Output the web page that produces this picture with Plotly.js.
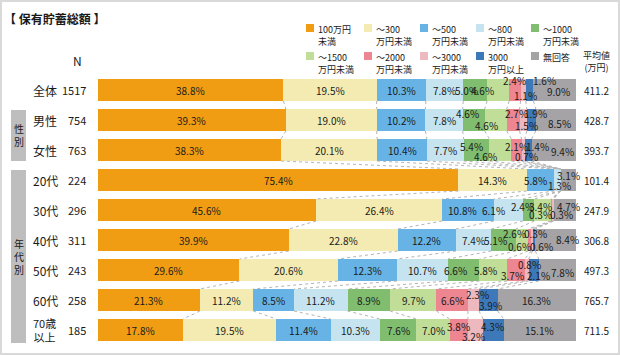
<!DOCTYPE html>
<html>
<head>
<meta charset="utf-8">
<script src="https://cdn.plot.ly/plotly-3.0.1.min.js"></script>
<style>
  html, body { margin: 0; padding: 0; background: #ffffff; }
  #chart { width: 620px; height: 355px; }
</style>
</head>
<body>
<div id="chart"></div>
<script>
// ---------------- DATA ----------------
const categories = ['全体', '男性', '女性', '20代', '30代', '40代', '50代', '60代', '70歳<br>以上'];
const nValues = [1517, 754, 763, 224, 296, 311, 243, 258, 185];
const averages = ['411.2', '428.7', '393.7', '101.4', '247.9', '306.8', '497.3', '765.7', '711.5'];

const seriesNames = ['100万円<br>未満', '～300<br>万円未満', '～500<br>万円未満', '～800<br>万円未満', '～1000<br>万円未満',
                     '～1500<br>万円未満', '～2000<br>万円未満', '～3000<br>万円未満', '3000<br>万円以上', '無回答'];

const under100  = [38.8, 39.3, 38.3, 75.4, 45.6, 39.9, 29.6, 21.3, 17.8];
const under300  = [19.5, 19.0, 20.1, 14.3, 26.4, 22.8, 20.6, 11.2, 19.5];
const under500  = [10.3, 10.2, 10.4,  5.8, 10.8, 12.2, 12.3,  8.5, 11.4];
const under800  = [ 7.8,  7.8,  7.7,  1.3,  6.1,  7.4, 10.7, 11.2, 10.3];
const under1000 = [ 5.0,  4.6,  5.4,  0.0,  2.4,  5.1,  6.6,  8.9,  7.6];
const under1500 = [ 4.6,  4.6,  4.6,  0.0,  3.4,  2.6,  5.8,  9.7,  7.0];
const under2000 = [ 2.4,  2.7,  2.1,  0.0,  0.3,  0.6,  3.7,  6.6,  3.8];
const under3000 = [ 1.1,  1.5,  0.7,  0.0,  0.3,  0.3,  0.8,  2.3,  3.2];
const over3000  = [ 1.6,  1.9,  1.4,  0.0,  0.0,  0.6,  2.1,  3.9,  4.3];
const noAnswer  = [ 9.0,  8.5,  9.4,  3.1,  4.7,  8.4,  7.8, 16.3, 15.1];

const series = [under100, under300, under500, under800, under1000, under1500, under2000, under3000, over3000, noAnswer];

// ---------------- STYLE ----------------
const colors = ['#F09D14', '#F3EBB1', '#67B3E5', '#C5E4F0', '#80BD6E', '#C0DE98', '#EE8691', '#EDB9BE', '#3D79B9', '#A5A3A5'];
const FONT = "'Noto Sans CJK JP', 'Noto Sans', sans-serif";
const TXT = '#1a1a1a';
const W = 620, H = 355;
const barWidth = 22 / 30;

// label nudges in px per row: {seriesIndex: [dx, dy]} (dy positive = down)
const labelNudge = [
  {4: [-9, 0], 5: [-16, 0], 6: [0, -10], 7: [2, 5], 8: [15, -10], 9: [4, 1]},
  {4: [-6, -7], 5: [-9, 5], 6: [3, -7], 7: [3, 5], 8: [4, -7], 9: [3, 3]},
  {4: [-5, -4], 5: [-15, 6], 6: [0, -4], 7: [3, 6], 8: [9, -4], 9: [8, 1]},
  {2: [-5, 0], 3: [2, 5], 9: [0, -5]},
  {2: [-5, 0], 3: [-15, 0], 4: [-6, -4], 5: [-2, -4], 6: [-11, 4], 7: [9, 4], 9: [4, -4]},
  {4: [-8, 0], 5: [-7, -7], 6: [-10, 6], 7: [4, -7], 8: [8, 6], 9: [12, -1]},
  {4: [-8, 0], 5: [-8, 0], 6: [-4, 5], 7: [3, -6], 8: [5, 5], 9: [5, 2]},
  {7: [4, -6], 8: [2, 5]},
  {6: [0, -4], 7: [-2, 6], 8: [-1, -4]}
];

function pxX(x) { return x / W; }
function pxY(y) { return 1 - y / H; }

const rows = categories.map((_, i) => i);
const traces = [];

// stacked bars
series.forEach((s, k) => {
  traces.push({
    type: 'bar', orientation: 'h', x: s, y: rows, width: barWidth,
    marker: {color: colors[k], line: {width: 0}},
    hoverinfo: 'skip', showlegend: false
  });
});

// cumulative sums
const cum = rows.map(i => {
  const out = [0];
  series.forEach(s => out.push(out[out.length - 1] + s[i]));
  return out;
});

// series (connector) lines
const lx = [], ly = [];
for (let i = 0; i < rows.length - 1; i++) {
  for (let k = 1; k < series.length; k++) {
    lx.push(cum[i][k], cum[i + 1][k], null);
    ly.push(i + barWidth / 2, i + 1 - barWidth / 2, null);
  }
}
traces.push({
  type: 'scatter', mode: 'lines', x: lx, y: ly,
  line: {color: '#b4b4b4', width: 1, dash: 'dot'},
  hoverinfo: 'skip', showlegend: false
});

const annotations = [];

// bar value labels
rows.forEach(i => {
  series.forEach((s, k) => {
    const v = s[i];
    if (v <= 0) return;
    const nudge = labelNudge[i][k] || [0, 0];
    annotations.push({
      x: cum[i][k] + v / 2, y: i, xref: 'x', yref: 'y',
      text: v.toFixed(1) + '%', showarrow: false,
      xshift: nudge[0], yshift: -nudge[1],
      font: {family: FONT, size: 10, color: TXT}
    });
  });
});

// category labels, N, averages
rows.forEach(i => {
  const multi = categories[i].indexOf('<br>') >= 0;
  annotations.push({
    x: multi ? pxX(44) : pxX(31), y: i, xref: 'paper', yref: 'y',
    xanchor: multi ? 'center' : 'left', align: 'center',
    text: categories[i], showarrow: false,
    font: {family: FONT, size: multi ? 11 : 12, color: TXT}
  });
  annotations.push({
    x: pxX(88), y: i, xref: 'paper', yref: 'y', xanchor: 'right',
    text: String(nValues[i]), showarrow: false,
    font: {family: FONT, size: 11, color: TXT}
  });
  annotations.push({
    x: pxX(596), y: i, xref: 'paper', yref: 'y', xanchor: 'center',
    text: averages[i], showarrow: false,
    font: {family: FONT, size: 10, color: TXT}
  });
});

// headers
annotations.push({x: pxX(2), y: pxY(18), xref: 'paper', yref: 'paper', xanchor: 'left', yanchor: 'middle',
  text: '<b>【 保有貯蓄総額 】</b>', showarrow: false, font: {family: FONT, size: 12, color: TXT}});
annotations.push({x: pxX(77), y: pxY(60), xref: 'paper', yref: 'paper', xanchor: 'center', yanchor: 'middle',
  text: 'N', showarrow: false, font: {family: FONT, size: 12, color: TXT}});
annotations.push({x: pxX(596), y: pxY(61), xref: 'paper', yref: 'paper', xanchor: 'center', yanchor: 'middle',
  text: '平均値<br>(万円)', showarrow: false, font: {family: FONT, size: 9, color: TXT}});

// group boxes
const shapes = [];
const groups = [{text: '性<br>別', y0: 110, y1: 161}, {text: '年<br>代<br>別', y0: 170, y1: 343}];
groups.forEach(g => {
  shapes.push({type: 'rect', xref: 'paper', yref: 'paper', x0: pxX(11), x1: pxX(26), y0: pxY(g.y1), y1: pxY(g.y0),
    fillcolor: '#BEBEBE', line: {width: 0}, layer: 'below'});
  annotations.push({x: pxX(18.5), y: pxY((g.y0 + g.y1) / 2), xref: 'paper', yref: 'paper',
    xanchor: 'center', yanchor: 'middle', text: g.text, showarrow: false,
    font: {family: FONT, size: 10, color: TXT}});
});

// legend (manual)
const legCols = [306, 364, 420, 476, 531];
const legRows = [24, 52];
seriesNames.forEach((name, k) => {
  const c = k % 5, r = Math.floor(k / 5);
  shapes.push({type: 'rect', xref: 'paper', yref: 'paper',
    x0: pxX(legCols[c]), x1: pxX(legCols[c] + 8), y0: pxY(legRows[r] + 8), y1: pxY(legRows[r]),
    fillcolor: colors[k], line: {width: 0}});
  annotations.push({x: pxX(legCols[c] + 10), y: pxY(legRows[r] - 3), xref: 'paper', yref: 'paper',
    xanchor: 'left', yanchor: 'top', align: 'left', text: name, showarrow: false,
    font: {family: FONT, size: 9, color: TXT}});
});

// frame
shapes.push({type: 'rect', xref: 'paper', yref: 'paper', x0: pxX(1), x1: pxX(619), y0: pxY(354), y1: pxY(1),
  line: {color: '#d9d9d9', width: 2}, fillcolor: 'rgba(0,0,0,0)'});

const layout = {
  width: W, height: H,
  margin: {l: 0, r: 0, t: 0, b: 0, pad: 0},
  paper_bgcolor: '#ffffff', plot_bgcolor: '#ffffff',
  barmode: 'stack',
  showlegend: false,
  xaxis: {range: [-98 / 4.78, (W - 98) / 4.78], visible: false, fixedrange: true},
  yaxis: {range: [(H - 90) / 30, -3], visible: false, fixedrange: true},
  annotations: annotations,
  shapes: shapes,
  font: {family: FONT}
};

Plotly.newPlot('chart', traces, layout, {staticPlot: true, displayModeBar: false});
</script>
</body>
</html>
